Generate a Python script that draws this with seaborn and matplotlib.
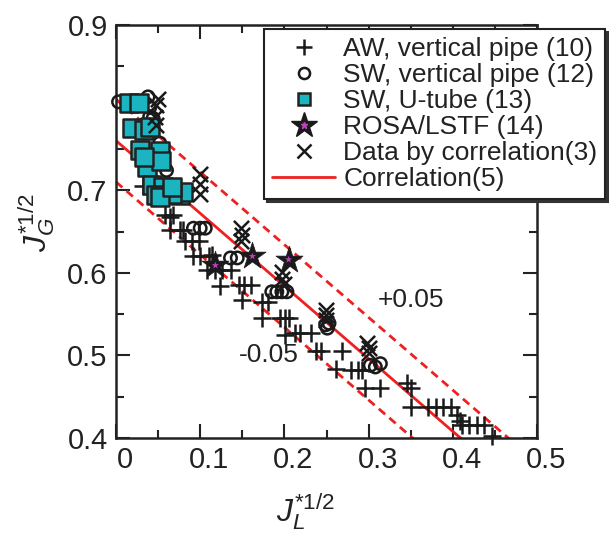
import numpy as np
import pandas as pd
import matplotlib
matplotlib.use("Agg")
import matplotlib.pyplot as plt
import matplotlib.transforms as mtransforms
import seaborn as sns
from matplotlib.lines import Line2D
from matplotlib.legend_handler import HandlerTuple

sns.set_theme(style="white")
plt.rcParams['font.family'] = ['Liberation Sans', 'DejaVu Sans']
plt.rcParams['mathtext.fontset'] = 'custom'
plt.rcParams['mathtext.it'] = 'Liberation Sans:italic'
plt.rcParams['mathtext.rm'] = 'Liberation Sans'

# AW, vertical pipe (10)
aw_x = [0.032, 0.058, 0.064, 0.068, 0.064, 0.076, 0.080, 0.082, 0.090, 0.098,
        0.092, 0.100, 0.110, 0.114, 0.108, 0.118, 0.126, 0.136, 0.124, 0.146,
        0.152, 0.160, 0.150, 0.173, 0.181, 0.173, 0.195, 0.201, 0.205, 0.201,
        0.213, 0.219, 0.231, 0.237, 0.243, 0.269, 0.261, 0.279, 0.287, 0.292,
        0.296, 0.314, 0.346, 0.350, 0.350, 0.370, 0.380, 0.388, 0.398, 0.405,
        0.408, 0.411, 0.419, 0.429, 0.437, 0.447]
aw_y = [0.705, 0.670, 0.668, 0.670, 0.652, 0.652, 0.652, 0.638, 0.638, 0.638,
        0.620, 0.620, 0.620, 0.622, 0.603, 0.603, 0.603, 0.603, 0.584, 0.585,
        0.585, 0.585, 0.567, 0.565, 0.565, 0.545, 0.545, 0.545, 0.545, 0.525,
        0.527, 0.527, 0.527, 0.505, 0.505, 0.505, 0.484, 0.482, 0.482, 0.482,
        0.460, 0.460, 0.466, 0.460, 0.438, 0.438, 0.438, 0.438, 0.438, 0.428,
        0.420, 0.416, 0.416, 0.416, 0.416, 0.402]

# SW, vertical pipe (12)
swv_x = [0.003, 0.038, 0.040, 0.040, 0.044, 0.052, 0.060, 0.092, 0.100, 0.106,
         0.136, 0.144, 0.185, 0.191, 0.197, 0.203, 0.249, 0.251, 0.253, 0.302,
         0.308, 0.314]
swv_y = [0.807, 0.813, 0.800, 0.789, 0.787, 0.757, 0.724, 0.654, 0.654, 0.654,
         0.618, 0.618, 0.577, 0.577, 0.577, 0.577, 0.537, 0.533, 0.539, 0.488,
         0.486, 0.490]

# SW, U-tube (13)
swu_x = [0.015, 0.027, 0.019, 0.033, 0.040, 0.029, 0.037, 0.052, 0.054, 0.033,
         0.043, 0.056, 0.048, 0.076, 0.079, 0.066, 0.052, 0.066]
swu_y = [0.805, 0.805, 0.775, 0.773, 0.777, 0.749, 0.728, 0.747, 0.735, 0.740,
         0.706, 0.704, 0.694, 0.694, 0.698, 0.696, 0.692, 0.704]

# ROSA/LSTF (14)
rosa_x = [0.118, 0.162, 0.205]
rosa_y = [0.609, 0.620, 0.616]

# Data by correlation (3)
dc_x = [0.050, 0.048, 0.046, 0.048, 0.100, 0.100, 0.100, 0.148, 0.150, 0.148,
        0.197, 0.197, 0.199, 0.249, 0.249, 0.249, 0.298, 0.300, 0.300]
dc_y = [0.811, 0.803, 0.789, 0.779, 0.720, 0.708, 0.696, 0.654, 0.646, 0.638,
        0.601, 0.593, 0.587, 0.555, 0.549, 0.543, 0.515, 0.509, 0.503]

# Correlation (5): JG^1/2 + m JL^1/2 = C (+/- 0.05)
corr_C = 0.76
corr_m = 0.88
band = 0.05

xlabels = ['0', '0.1', '0.2', '0.3', '0.4', '0.5']
ylabels = ['0.4', '0.5', '0.6', '0.7', '', '0.9']

fig = plt.figure(figsize=(6.09, 5.42), dpi=100)
ax = fig.add_axes([116/609, 1-438/542, (537-116)/609, (438-25)/542])

teal = '#1bb5c2'
sns.scatterplot(x=aw_x, y=aw_y, marker='+', s=150, color='#1a1a1a', linewidth=1.8, ax=ax, clip_on=False, zorder=3)
sns.scatterplot(x=swv_x, y=swv_y, marker='o', s=80, facecolor='none', edgecolor='#1a1a1a', linewidth=1.8, ax=ax, clip_on=False, zorder=3)
sns.scatterplot(x=swu_x, y=swu_y, marker='s', s=150, color=teal, edgecolor='#222222', linewidth=1.8, ax=ax, clip_on=False, zorder=3)
sns.scatterplot(x=dc_x, y=dc_y, marker='x', s=120, color='#1a1a1a', linewidth=1.8, ax=ax, clip_on=False, zorder=3)
sns.scatterplot(x=rosa_x, y=rosa_y, marker='*', s=420, color='#1a1a1a', edgecolor='#1a1a1a', linewidth=0.5, ax=ax, zorder=4)
sns.scatterplot(x=rosa_x, y=rosa_y, marker='*', s=30, color='#c040c0', edgecolor='none', linewidth=0, ax=ax, zorder=5)

xl = np.array([0.0, 0.5])
df_lines = pd.DataFrame({'x': xl, 'mid': corr_C - corr_m*xl,
                         'up': corr_C + band - corr_m*xl, 'lo': corr_C - band - corr_m*xl})
sns.lineplot(data=df_lines, x='x', y='mid', color='#ee2020', linewidth=2.0, ax=ax, zorder=2)
sns.lineplot(data=df_lines, x='x', y='up', color='#ee2020', linewidth=2.0, linestyle=(0, (3, 2)), ax=ax, zorder=2)
sns.lineplot(data=df_lines, x='x', y='lo', color='#ee2020', linewidth=2.0, linestyle=(0, (3, 2)), ax=ax, zorder=2)

ax.set_xlim(0, 0.5)
ax.set_ylim(0.4, 0.9)
ax.set_xticks([0, 0.1, 0.2, 0.3, 0.4, 0.5])
ax.set_xticklabels(xlabels)
ax.set_yticks([0.4, 0.5, 0.6, 0.7, 0.8, 0.9])
ax.set_yticklabels(ylabels)
ax.set_xticks(np.arange(0.05, 0.5, 0.1), minor=True)
ax.set_yticks(np.arange(0.45, 0.9, 0.1), minor=True)
ax.tick_params(which='both', direction='in', top=True, right=True, bottom=True, left=True,
               color='#222222', width=1.5)
ax.tick_params(which='major', length=10, labelsize=21, pad=6, labelcolor='#222222')
ax.tick_params(which='minor', length=6)
for s in ax.spines.values():
    s.set_linewidth(1.8)
    s.set_color('#222222')

# shift x tick labels slightly to the right, as in the reference
offset = mtransforms.ScaledTranslation(9/100, 0, fig.dpi_scale_trans)
for lab in ax.get_xticklabels():
    lab.set_transform(lab.get_transform() + offset)

ax.set_xlabel(r'$J_L^{*1/2}$', fontsize=23, color='#222222')
ax.set_ylabel(r'$J_G^{*1/2}$', fontsize=23, color='#222222')
ax.xaxis.set_label_coords((305-116)/421, -(492-438)/413)
ax.yaxis.set_label_coords(-(116-57)/421, (438-223)/413)

ax.text(0.35, 0.567, '+0.05', fontsize=19, color='#222222', ha='center', va='center')
ax.text(0.181, 0.500, '-0.05', fontsize=19, color='#222222', ha='center', va='center')

h_aw = Line2D([], [], marker='+', ls='none', color='#1a1a1a', markersize=11, markeredgewidth=1.8)
h_sw = Line2D([], [], marker='o', ls='none', markerfacecolor='none', markeredgecolor='#1a1a1a', markersize=8, markeredgewidth=1.8)
h_su = Line2D([], [], marker='s', ls='none', markerfacecolor=teal, markeredgecolor='#222222', markersize=9, markeredgewidth=1.8)
h_st1 = Line2D([], [], marker='*', ls='none', color='#1a1a1a', markersize=19)
h_st2 = Line2D([], [], marker='*', ls='none', color='#c040c0', markersize=5)
h_dc = Line2D([], [], marker='x', ls='none', color='#1a1a1a', markersize=10, markeredgewidth=1.8)
h_co = Line2D([], [], color='#ee2020', linewidth=2.0)
leg = ax.legend([h_aw, h_sw, h_su, (h_st1, h_st2), h_dc, h_co],
                ['AW, vertical pipe (10)', 'SW, vertical pipe (12)', 'SW, U-tube (13)',
                 'ROSA/LSTF (14)', 'Data by correlation(3)', 'Correlation(5)'],
                handler_map={tuple: HandlerTuple(ndivide=1, pad=0)},
                loc='upper left', bbox_to_anchor=(264/609, 1-29/542), bbox_transform=fig.transFigure,
                fontsize=19, frameon=True, fancybox=False, shadow={'color': '#333333', 'alpha': 1.0},
                edgecolor='#222222', framealpha=1, borderpad=0.3, labelspacing=0.08,
                handlelength=2.4, handletextpad=0.3, borderaxespad=0)
leg.get_frame().set_linewidth(1.5)
for t in leg.get_texts():
    t.set_color('#222222')

fig.savefig('out.png', dpi=100)
